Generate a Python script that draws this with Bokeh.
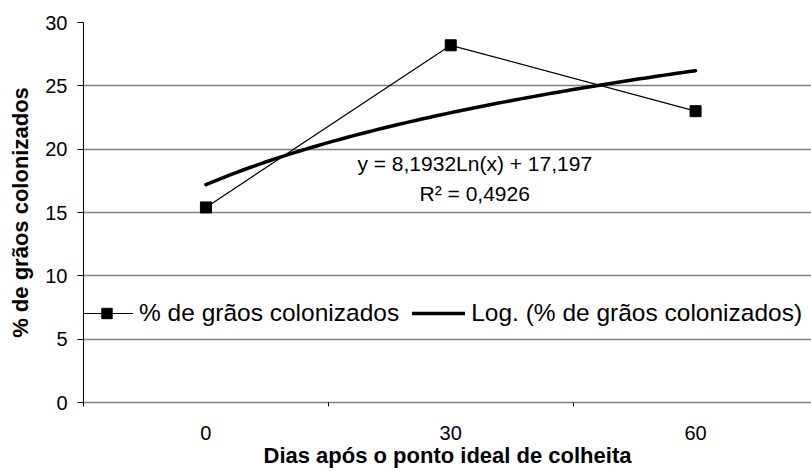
import numpy as np
from bokeh.plotting import figure
from bokeh.models import Range1d, FixedTicker, Legend, LegendItem, Label
from bokeh.embed import file_html
from bokeh.resources import INLINE

# ---- data ----
days = ["0", "30", "60"]
colonized = [15.4, 28.2, 23.0]
y_ticks = [0, 5, 10, 15, 20, 25, 30]
trend_coef = 8.1932      # from the equation printed on the chart
trend_const = 17.197
eq_text = "y = 8,1932Ln(x) + 17,197"
r2_text = "R² = 0,4926"
x_title = "Dias após o ponto ideal de colheita"
y_title = "% de grãos colonizados"
series_name = "% de grãos colonizados"
trend_name = "Log. (% de grãos colonizados)"

FONT = "Liberation Sans"

positions = list(range(1, len(days) + 1))
trend_x = np.linspace(positions[0], positions[-1], 80)
trend_y = trend_coef * np.log(trend_x) + trend_const

p = figure(width=811, height=471, output_backend="svg", toolbar_location=None,
           x_range=Range1d(0.5, 3.4735), y_range=Range1d(0, 30),
           min_border_left=83, min_border_top=22, min_border_right=0,
           min_border_bottom=69)
p.outline_line_color = None
p.background_fill_color = "white"

# grid
p.xgrid.visible = False
p.ygrid.ticker = FixedTicker(ticks=y_ticks)
p.ygrid.grid_line_color = "#808080"
p.ygrid.grid_line_width = 1.5

# y axis
p.yaxis.ticker = FixedTicker(ticks=y_ticks)
p.yaxis.axis_line_color = "black"
p.yaxis.major_tick_line_color = "black"
p.yaxis.major_tick_out = 6
p.yaxis.major_tick_in = 0
p.yaxis.minor_tick_line_color = None
p.yaxis.major_label_standoff = 10
p.yaxis.major_label_text_font = FONT
p.yaxis.major_label_text_font_size = "20px"
p.yaxis.major_label_text_color = "black"
p.yaxis.axis_label = y_title
p.yaxis.axis_label_text_font = FONT
p.yaxis.axis_label_text_font_size = "22px"
p.yaxis.axis_label_text_font_style = "bold"
p.yaxis.axis_label_text_color = "black"
p.yaxis.axis_label_standoff = 9

# x axis
p.xaxis.ticker = FixedTicker(ticks=positions,
                             minor_ticks=[i + 0.5 for i in range(0, len(days) + 1)])
p.xaxis.major_label_overrides = {pos: d for pos, d in zip(positions, days)}
p.xaxis.axis_line_color = "#808080"
p.xaxis.axis_line_width = 1.5
p.xaxis.major_tick_line_color = None
p.xaxis.major_tick_out = 0
p.xaxis.major_tick_in = 0
p.xaxis.minor_tick_line_color = "black"
p.xaxis.minor_tick_out = 4
p.xaxis.minor_tick_in = 0
p.xaxis.major_label_standoff = 19
p.xaxis.major_label_text_font = FONT
p.xaxis.major_label_text_font_size = "20px"
p.xaxis.major_label_text_color = "black"
p.xaxis.axis_label = x_title
p.xaxis.axis_label_text_font = FONT
p.xaxis.axis_label_text_font_size = "22px"
p.xaxis.axis_label_text_font_style = "bold"
p.xaxis.axis_label_text_color = "black"
p.xaxis.axis_label_standoff = 0

# series
r_trend = p.line(trend_x, trend_y, line_color="black", line_width=3.5, line_cap="round")
r_line = p.line(positions, colonized, line_color="black", line_width=1.2)
r_pts = p.scatter(positions, colonized, marker="square", size=11,
                  fill_color="black", line_color="black")

# equation
eq_x = 2.098
p.add_layout(Label(x=eq_x, y=18.87, text=eq_text, text_align="center",
                   text_baseline="middle", text_font=FONT, text_font_size="21px",
                   text_color="black"))
p.add_layout(Label(x=eq_x, y=16.5, text=r2_text, text_align="center",
                   text_baseline="middle", text_font=FONT, text_font_size="21px",
                   text_color="black"))

legend = Legend(items=[LegendItem(label=series_name, renderers=[r_line, r_pts]),
                       LegendItem(label=trend_name, renderers=[r_trend])],
                orientation="horizontal", location=(-3, 75), padding=0, margin=0,
                spacing=13, label_standoff=6, glyph_width=53, glyph_height=26,
                label_text_font=FONT, label_text_font_size="24.5px",
                label_text_color="black",
                background_fill_alpha=0, border_line_alpha=0)
p.add_layout(legend)

open("out.html", "w").write(file_html(p, INLINE))
